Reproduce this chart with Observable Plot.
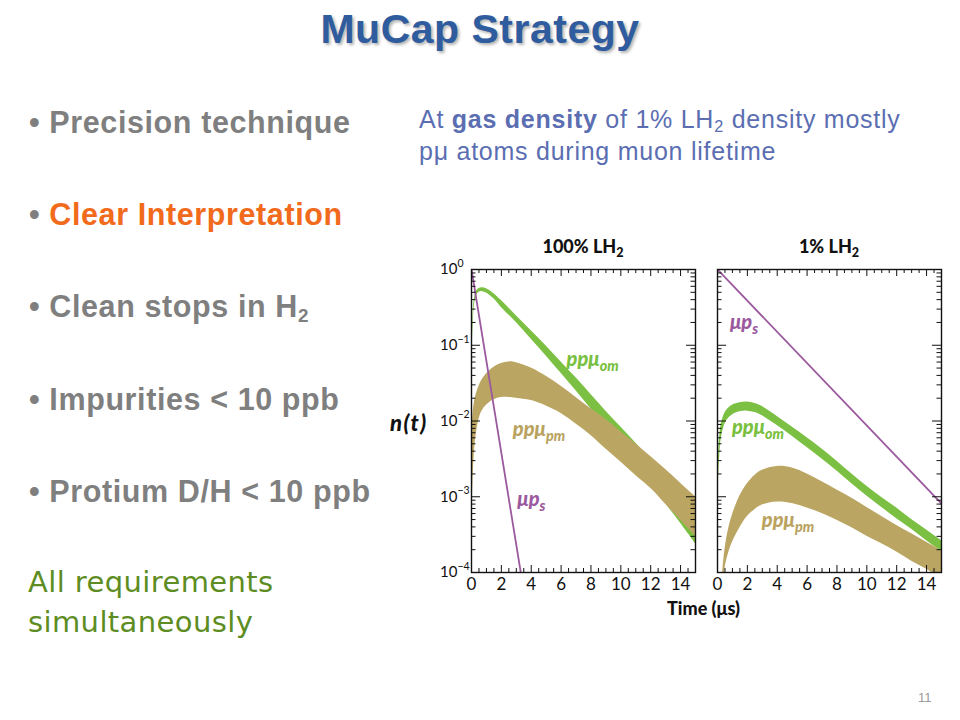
<!DOCTYPE html>
<html><head><meta charset="utf-8">
<script src="https://cdn.jsdelivr.net/npm/d3@7"></script>
<script src="https://cdn.jsdelivr.net/npm/@observablehq/plot@0.6"></script>
<style>
body{margin:0;background:#fff;}
#slide{position:relative;width:960px;height:720px;overflow:hidden;background:#fff;font-family:"Liberation Sans",Arial,sans-serif;}
.abs{position:absolute;white-space:nowrap;}
.bul{left:29px;font-weight:bold;font-size:30.5px;line-height:36px;color:#7f7f7f;letter-spacing:0.6px;}
.bul sub{font-size:0.62em;vertical-align:-0.28em;}
.sub{left:419px;font-size:25px;line-height:30px;color:#5b6eb2;letter-spacing:0.75px;}
.sub sub{font-size:0.65em;vertical-align:-0.25em;}
.green{left:28px;font-family:"DejaVu Sans",sans-serif;font-size:29px;line-height:36px;color:#5d8d22;letter-spacing:0.4px;}
.ptitle{font-family:Lato,"Open Sans",sans-serif;font-weight:900;font-size:18px;line-height:20px;color:#111;transform:translateX(-50%);}
.ptitle sub{font-size:0.7em;vertical-align:-0.3em;}
.lab{font-family:Lato,"Open Sans",sans-serif;font-weight:900;font-style:italic;font-size:20px;line-height:22px;transform:translateY(-50%);}
.lab sub{font-size:0.72em;vertical-align:-0.35em;}
svg{position:absolute;overflow:visible;}
</style></head><body><div id="slide">
<div class="abs" style="left:0;width:960px;text-align:center;top:6px;font-weight:bold;font-size:41px;line-height:46px;color:#2f5c9e;text-shadow:2px 2px 3px rgba(0,0,0,0.3);letter-spacing:0.5px;">MuCap Strategy</div>
<div class="abs bul" style="top:104px;">• Precision technique</div>
<div class="abs bul" style="top:196px;">• <span style="color:#f26a1b">Clear Interpretation</span></div>
<div class="abs bul" style="top:288px;">• Clean stops in H<sub>2</sub></div>
<div class="abs bul" style="top:381px;">• Impurities &lt; 10 ppb</div>
<div class="abs bul" style="top:473px;">• Protium D/H &lt; 10 ppb</div>
<div class="abs green" style="top:564px;">All requirements</div>
<div class="abs green" style="top:604px;">simultaneously</div>
<div class="abs sub" style="top:104px;">At <b>gas density</b> of 1% LH<sub>2</sub> density mostly</div>
<div class="abs sub" style="top:136px;">p&mu; atoms during muon lifetime</div>
<div class="abs" style="left:918px;top:690px;font-size:13px;color:#9a9a9a;">11</div>
<div class="abs ptitle" style="left:583px;top:236px;">100% LH<sub>2</sub></div>
<div class="abs ptitle" style="left:829px;top:236px;">1% LH<sub>2</sub></div>
<div class="abs lab" style="left:390px;top:423px;color:#111;font-size:22px;letter-spacing:1.5px;">n(t)</div>
<div class="abs" style="left:667px;top:597px;font-family:Lato,'Open Sans',sans-serif;font-weight:900;font-size:18px;color:#111;">Time (&mu;s)</div>
</div>
<script>
// ---------- data (n(t) on a log axis, t in microseconds) ----------
// 100% LH2 panel
const tOm100   = [0, 0.05, 0.1, 0.2, 0.35, 0.5, 0.75, 1, 1.5, 2, 3, 4, 5, 6, 7, 8, 9, 10, 11, 12, 13, 14, 15];
const omHi100  = [0.0631, 0.141, 0.251, 0.417, 0.525, 0.562, 0.575, 0.556, 0.479, 0.389, 0.245, 0.155, 0.0977, 0.0603, 0.0372, 0.0224, 0.0135, 0.00832, 0.00513, 0.00309, 0.00186, 0.00112, 0.000676];
const omLo100  = [0.02, 0.0794, 0.178, 0.339, 0.457, 0.5, 0.51, 0.49, 0.41, 0.316, 0.2, 0.12, 0.0724, 0.0427, 0.0251, 0.0145, 0.0085, 0.00501, 0.00282, 0.00151, 0.000813, 0.000447, 0.00024];
const tPm100   = [0, 0.05, 0.1, 0.2, 0.3, 0.5, 0.7, 1, 1.5, 2, 2.5, 3, 4, 5, 6, 7, 8, 9, 10, 11, 12, 13, 14, 15];
const pmHi100  = [0.00158, 0.00794, 0.0126, 0.0178, 0.0219, 0.0288, 0.0347, 0.0417, 0.0513, 0.0575, 0.0603, 0.0589, 0.0501, 0.0389, 0.0288, 0.0204, 0.0145, 0.0105, 0.00724, 0.00501, 0.00339, 0.00229, 0.00151, 0.001];
const pmLo100  = [0.000063, 0.000631, 0.00158, 0.00398, 0.00631, 0.0105, 0.0135, 0.0162, 0.0191, 0.0204, 0.0204, 0.02, 0.0186, 0.0158, 0.0126, 0.00912, 0.00646, 0.00427, 0.00288, 0.00191, 0.00129, 0.000794, 0.00049, 0.000302];
const tS100    = [0, 3.3];
const sN100    = [1, 0.0001];
// 1% LH2 panel
const tOm1     = [0, 0.05, 0.15, 0.3, 0.6, 1, 1.5, 2, 2.5, 3, 4, 5, 6, 7, 8, 9, 10, 11, 12, 13, 14, 15];
const omHi1    = [0.000158, 0.00251, 0.00631, 0.01, 0.0138, 0.0162, 0.0174, 0.0178, 0.017, 0.0155, 0.0115, 0.00832, 0.00603, 0.00427, 0.00295, 0.002, 0.00138, 0.000977, 0.000708, 0.000501, 0.000363, 0.000263];
const omLo1    = [0.0000501, 0.001, 0.00355, 0.00661, 0.01, 0.012, 0.0132, 0.0135, 0.0129, 0.0117, 0.00871, 0.00631, 0.00447, 0.00316, 0.00219, 0.00148, 0.00102, 0.000724, 0.000513, 0.000372, 0.000263, 0.000191];
const tPm1     = [0.3, 0.5, 0.75, 1, 1.5, 2, 2.5, 3, 4, 5, 6, 7, 8, 9, 10, 11, 12, 13, 14, 15];
const pmHi1    = [0.0000794, 0.0002, 0.00038, 0.000575, 0.00102, 0.00148, 0.00191, 0.00224, 0.00251, 0.0024, 0.002, 0.00158, 0.00123, 0.000955, 0.000724, 0.00055, 0.000417, 0.000324, 0.000251, 0.000195];
const pmLo1    = [0.0000251, 0.000112, 0.000182, 0.000251, 0.000389, 0.00055, 0.000676, 0.000776, 0.000851, 0.000813, 0.000708, 0.000603, 0.00049, 0.000389, 0.000302, 0.00024, 0.000186, 0.000141, 0.00011, 0.0000832];
const tS1      = [0, 15];
const sN1      = [1, 0.000813];
// axis ticks
const xTickLabels = [0, 2, 4, 6, 8, 10, 12, 14];
const yTickLabels = [1, 0.1, 0.01, 0.001, 0.0001];
// curve labels: [panel, main, subscript, t, n, colour]
const curveLabels = [
  ["p100", "ppμ", "om", 6.4, 0.059, "#79bf40"],
  ["p100", "ppμ", "pm", 2.8, 0.0071, "#b9a35f"],
  ["p100", "μp", "s", 3.1, 0.00083, "#9b5a9e"],
  ["p1", "μp", "s", 0.87, 0.18, "#9b5a9e"],
  ["p1", "ppμ", "om", 1.0, 0.0074, "#79bf40"],
  ["p1", "ppμ", "pm", 3.0, 0.00045, "#b9a35f"]
];

// ---------- drawing ----------
const GREEN = "#7bc043", TAN = "#bba562", PURPLE = "#9b5a9e";
const W = 224, H = 303, MT = 10, MB = 32;
const expText = v => String(Math.round(Math.log10(v))).replace("-", "\u2212");
const minorX = d3.range(0, 15.001, 0.5).filter(v => !xTickLabels.includes(v));
const minorY = [];
for (let e = -4; e < 0; e++) for (let m = 2; m <= 9; m++) minorY.push(m * 10 ** e);

function panel(tOm, omHi, omLo, tPm, pmHi, pmLo, tS, sN, showY, ml) {
  const om = tOm.map((t, i) => ({t, hi: omHi[i], lo: omLo[i]}));
  const pm = tPm.map((t, i) => ({t, hi: pmHi[i], lo: pmLo[i]}));
  const s = tS.map((t, i) => ({t, n: sN[i]}));
  const tk = {stroke: "#111", strokeWidth: 1};
  return Plot.plot({
    width: ml + W + 5, height: MT + H + MB,
    marginLeft: ml, marginRight: 5, marginTop: MT, marginBottom: MB,
    x: {domain: [0, 15], label: null},
    y: {type: "log", domain: [1e-4, 1], label: null, axis: showY ? undefined : null},
    style: {fontFamily: "Lato, 'Open Sans', sans-serif", fontSize: "16px", color: "#111", background: "transparent", overflow: "visible"},
    marks: [
      Plot.areaY(om, {x: "t", y1: "lo", y2: "hi", fill: GREEN, curve: "catmull-rom", clip: true}),
      Plot.areaY(pm, {x: "t", y1: "lo", y2: "hi", fill: TAN, curve: "catmull-rom", clip: true}),
      Plot.line(s, {x: "t", y: "n", stroke: PURPLE, strokeWidth: 1.8, clip: true}),
      Plot.tickX(xTickLabels, {x: d => d, insetTop: H - 7, ...tk}),
      Plot.tickX(xTickLabels, {x: d => d, insetBottom: H - 7, ...tk}),
      Plot.tickX(minorX, {x: d => d, insetTop: H - 4, ...tk}),
      Plot.tickX(minorX, {x: d => d, insetBottom: H - 4, ...tk}),
      Plot.tickY(yTickLabels, {y: d => d, insetRight: W - 9, ...tk}),
      Plot.tickY(yTickLabels, {y: d => d, insetLeft: W - 9, ...tk}),
      Plot.tickY(minorY, {y: d => d, insetRight: W - 4.5, ...tk}),
      Plot.tickY(minorY, {y: d => d, insetLeft: W - 4.5, ...tk}),
      Plot.frame({stroke: "#111", strokeWidth: 1.4}),
      Plot.axisX({ticks: xTickLabels, tickSize: 0, tickPadding: 5, fontSize: 17}),
      showY ? Plot.axisY({ticks: yTickLabels, tickSize: 0, tickPadding: 14, tickFormat: () => "10", fontSize: 15}) : null,
      showY ? Plot.text(yTickLabels, {y: d => d, frameAnchor: "left", text: expText, textAnchor: "start", dx: -14, dy: -6, fontSize: 10.5, fill: "#111"}) : null
    ]
  });
}

const slide = document.getElementById("slide");
const frameTop = 269;
const panels = {
  p100: {left: 471, ml: 60, chart: panel(tOm100, omHi100, omLo100, tPm100, pmHi100, pmLo100, tS100, sN100, true, 60)},
  p1: {left: 717, ml: 5, chart: panel(tOm1, omHi1, omLo1, tPm1, pmHi1, pmLo1, tS1, sN1, false, 5)}
};
for (const k in panels) {
  const p = panels[k];
  p.x0 = p.left - p.ml; p.y0 = frameTop - MT;
  p.chart.style.left = p.x0 + "px";
  p.chart.style.top = p.y0 + "px";
  slide.appendChild(p.chart);
}
for (const [k, main, sb, t, n, col] of curveLabels) {
  const p = panels[k];
  const d = document.createElement("div");
  d.className = "abs lab";
  d.style.color = col;
  d.style.left = (p.x0 + p.chart.scale("x").apply(t)) + "px";
  d.style.top = (p.y0 + p.chart.scale("y").apply(n)) + "px";
  d.innerHTML = main + "<sub>" + sb + "</sub>";
  slide.appendChild(d);
}
</script>
</body></html>
